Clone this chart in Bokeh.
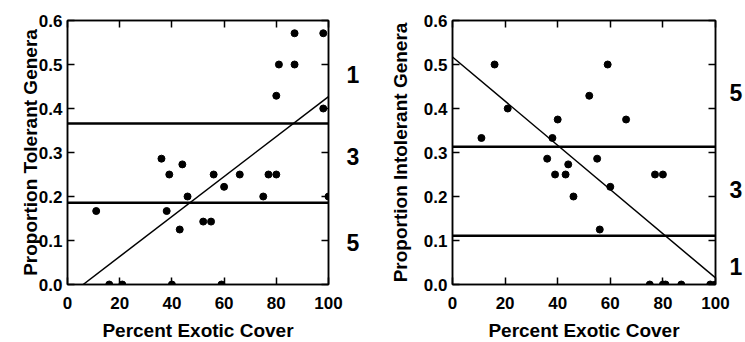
from bokeh.plotting import figure
from bokeh.layouts import row
from bokeh.models import Range1d, LinearAxis, Span, FixedTicker, NumeralTickFormatter
from bokeh.embed import file_html
from bokeh.resources import INLINE

FONT = "Liberation Sans"

x_ticks = [0, 20, 40, 60, 80, 100]
y_ticks = [0.0, 0.1, 0.2, 0.3, 0.4, 0.5, 0.6]

# Left panel: tolerant genera
left_x = [11, 16, 21, 36, 39, 38, 40, 44, 43, 46, 52, 55, 56, 60, 59, 66, 75, 77, 80, 80, 81, 87, 87, 98, 98, 100]
left_y = [0.167, 0, 0, 0.286, 0.25, 0.167, 0, 0.273, 0.125, 0.2, 0.143, 0.143, 0.25, 0.222, 0, 0.25,
          0.2, 0.25, 0.25, 0.429, 0.5, 0.571, 0.5, 0.571, 0.4, 0.2]
left_fit_x = [6, 100]
left_fit_y = [0.0, 0.427]
left_bounds = [0.366, 0.186]
left_class_labels = ["1", "3", "5"]
left_class_y = [0.477, 0.291, 0.095]

# Right panel: intolerant genera
right_x = [11, 16, 21, 38, 40, 36, 39, 43, 44, 46, 52, 59, 55, 56, 60, 66, 77, 80, 75, 80, 81, 87, 98, 100]
right_y = [0.333, 0.5, 0.4, 0.333, 0.375, 0.286, 0.25, 0.25, 0.273, 0.2, 0.429, 0.5, 0.286, 0.125,
           0.222, 0.375, 0.25, 0.25, 0, 0, 0, 0, 0, 0]
right_fit_x = [0, 101]
right_fit_y = [0.517, 0.010]
right_bounds = [0.313, 0.111]
right_class_labels = ["5", "3", "1"]
right_class_y = [0.436, 0.216, 0.042]


def make_panel(xs, ys, fit_x, fit_y, bounds, cls_labels, cls_y, ylabel,
               border_left, frame_w, border_right, ylabel_standoff, cls_standoff):
    p = figure(frame_width=frame_w, frame_height=264,
               min_border_left=border_left, min_border_right=border_right,
               min_border_top=20, min_border_bottom=50,
               x_range=Range1d(0, 100), y_range=Range1d(0, 0.6),
               output_backend="svg", toolbar_location=None, tools="")
    p.grid.visible = False
    p.background_fill_color = "white"
    p.border_fill_color = "white"
    p.outline_line_color = "black"
    p.outline_line_width = 1.5

    p.xaxis.ticker = FixedTicker(ticks=x_ticks)
    p.yaxis.ticker = FixedTicker(ticks=y_ticks)
    p.yaxis.formatter = NumeralTickFormatter(format="0.0")
    p.xaxis.axis_label = "Percent Exotic Cover"
    p.yaxis.axis_label = ylabel

    for ax in (p.xaxis[0], p.yaxis[0]):
        ax.axis_line_color = "black"
        ax.axis_line_width = 1.5
        ax.major_tick_line_width = 1.5
        ax.major_tick_in = 7
        ax.major_tick_out = 0
        ax.minor_tick_line_color = None
        ax.major_label_text_font = FONT
        ax.major_label_text_font_style = "bold"
        ax.major_label_text_font_size = "17px"
        ax.major_label_text_color = "black"
        ax.axis_label_text_font = FONT
        ax.axis_label_text_font_style = "bold"
        ax.axis_label_text_font_size = "19px"
        ax.axis_label_text_color = "black"
    p.xaxis.major_label_standoff = 12
    p.xaxis.axis_label_standoff = 8
    p.yaxis.major_label_standoff = 5
    p.yaxis.axis_label_standoff = ylabel_standoff

    top = LinearAxis(ticker=FixedTicker(ticks=x_ticks))
    right = LinearAxis(ticker=FixedTicker(ticks=y_ticks))
    for ax in (top, right):
        ax.axis_line_color = "black"
        ax.axis_line_width = 1.5
        ax.major_tick_line_width = 1.5
        ax.major_tick_in = 7
        ax.major_tick_out = 0
        ax.minor_tick_line_color = None
        ax.major_label_text_font_size = "1px"
        ax.major_label_text_color = None
        ax.major_label_standoff = 0
    p.add_layout(top, "above")
    p.add_layout(right, "right")

    # class labels as an extra right-hand axis without line or ticks
    cls_axis = LinearAxis(ticker=FixedTicker(ticks=cls_y),
                          major_label_overrides={yv: t for t, yv in zip(cls_labels, cls_y)})
    cls_axis.axis_line_color = None
    cls_axis.major_tick_line_color = None
    cls_axis.minor_tick_line_color = None
    cls_axis.major_tick_in = 0
    cls_axis.major_tick_out = 0
    cls_axis.major_label_standoff = cls_standoff
    cls_axis.major_label_text_font = FONT
    cls_axis.major_label_text_font_style = "bold"
    cls_axis.major_label_text_font_size = "23px"
    cls_axis.major_label_text_color = "black"
    p.add_layout(cls_axis, "right")

    for b in bounds:
        p.add_layout(Span(location=b, dimension="width", line_color="black", line_width=2.5))

    p.line(fit_x, fit_y, line_color="black", line_width=1.5)
    p.scatter(xs, ys, size=7, fill_color="black", line_color="black")
    return p


left = make_panel(left_x, left_y, left_fit_x, left_fit_y, left_bounds, left_class_labels, left_class_y,
                  "Proportion Tolerant Genera", 67, 261, 41, -5, 18)
right = make_panel(right_x, right_y, right_fit_x, right_fit_y, right_bounds, right_class_labels, right_class_y,
                   "Proportion Intolerant Genera", 83, 263, 29, 10, 14)

layout = row(left, right)

open("out.html", "w").write(file_html(layout, INLINE))
